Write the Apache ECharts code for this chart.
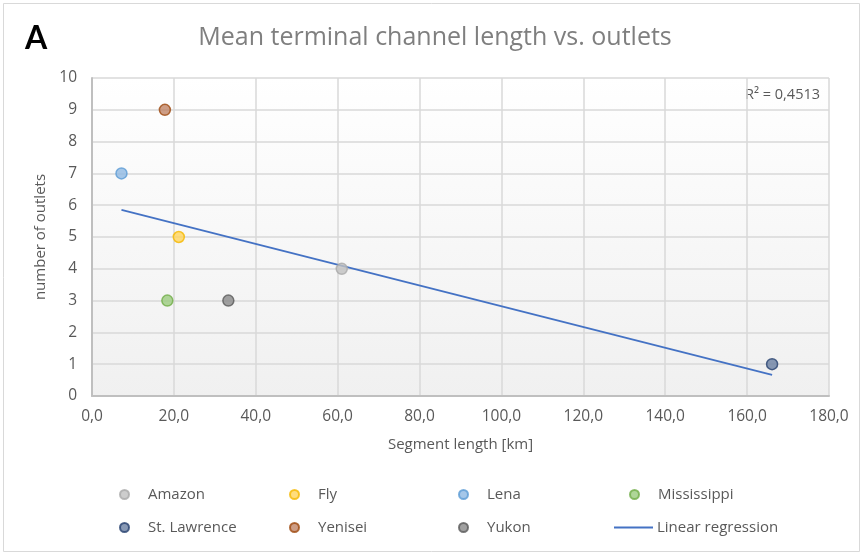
<!DOCTYPE html>
<html>
<head>
<meta charset="utf-8">
<script src="https://cdn.jsdelivr.net/npm/echarts@6/dist/echarts.min.js"></script>
<style>
  html, body { margin: 0; padding: 0; background: #ffffff; }
  #chart { width: 863px; height: 555px; }
</style>
</head>
<body>
<div id="chart"></div>
<script>
// River deltas: mean terminal channel (segment) length and number of outlets
const rivers = ['Amazon', 'Fly', 'Lena', 'Mississippi', 'St. Lawrence', 'Yenisei', 'Yukon'];
const segmentLength = [61.0, 21.2, 7.2, 18.4, 166.1, 17.8, 33.3];
const outlets = [4, 5, 7, 3, 1, 9, 3];
const xTicks = [0, 20, 40, 60, 80, 100, 120, 140, 160, 180];
const yTicks = [0, 1, 2, 3, 4, 5, 6, 7, 8, 9, 10];

const fills = ['#c0c0c0', '#ffd55c', '#8fb9e3', '#9bcc7e', '#6a7fa3', '#c08466', '#8a8a8a'];
const borders = ['#a9a9a9', '#f5b800', '#5b9bd5', '#70ad47', '#26406e', '#9e480e', '#5a5a5a'];
const FONT = '"Open Sans", Lato, sans-serif';
const TEXT = '#595959';

// least-squares trend line through all points
const n = segmentLength.length;
const mx = segmentLength.reduce((a, b) => a + b, 0) / n;
const my = outlets.reduce((a, b) => a + b, 0) / n;
let sxy = 0, sxx = 0, syy = 0;
for (let i = 0; i < n; i++) {
  sxy += (segmentLength[i] - mx) * (outlets[i] - my);
  sxx += (segmentLength[i] - mx) ** 2;
  syy += (outlets[i] - my) ** 2;
}
const slope = sxy / sxx;
const intercept = my - slope * mx;
const r2 = (sxy * sxy) / (sxx * syy);
const xMin = Math.min(...segmentLength), xMax = Math.max(...segmentLength);
const trend = [[xMin, intercept + slope * xMin], [xMax, intercept + slope * xMax]];

const series = rivers.map((name, i) => ({
  name,
  type: 'scatter',
  symbol: 'circle',
  symbolSize: 11,
  data: [[segmentLength[i], outlets[i]]],
  itemStyle: { color: fills[i], borderColor: borders[i], borderWidth: 1.5 },
  z: 3
}));
series.push({
  name: 'Linear regression',
  type: 'line',
  data: trend,
  showSymbol: false,
  symbol: 'none',
  lineStyle: { color: '#4472c4', width: 1.8 },
  itemStyle: { color: '#4472c4' },
  z: 2
});

// one legend block per entry so the entries sit in fixed columns
const legendCols = [114, 284, 453, 624];
const legendRows = [482, 515];
const legendOrder = ['Amazon', 'Fly', 'Lena', 'Mississippi', 'St. Lawrence', 'Yenisei', 'Yukon', 'Linear regression'];
const legends = legendOrder.map((name, k) => {
  const isLine = name === 'Linear regression';
  return {
    data: [isLine ? { name, icon: 'rect' } : { name, icon: 'circle' }],
    left: isLine ? 609 : legendCols[k % 4],
    top: legendRows[Math.floor(k / 4)],
    itemWidth: isLine ? 39 : 9,
    itemHeight: isLine ? 2 : 9,
    itemGap: 0,
    textStyle: { color: TEXT, fontSize: 15, fontFamily: FONT, padding: isLine ? [0, 0, 0, -1] : [0, 0, 0, 14] },
    selectedMode: false
  };
});

const chart = echarts.init(document.getElementById('chart'));
chart.setOption({
  backgroundColor: '#ffffff',
  animation: false,
  legend: legends,
  grid: {
    left: 92, right: 34, top: 78, bottom: 159,
    show: true,
    borderWidth: 0,
    backgroundColor: new echarts.graphic.LinearGradient(0, 0, 0, 1, [
      { offset: 0, color: '#ffffff' },
      { offset: 1, color: '#f0f0f0' }
    ])
  },
  xAxis: {
    type: 'value',
    min: xTicks[0], max: xTicks[xTicks.length - 1], interval: xTicks[1] - xTicks[0],
    name: 'Segment length [km]',
    nameLocation: 'middle',
    nameGap: 41,
    nameTextStyle: { color: TEXT, fontSize: 15, fontFamily: FONT },
    axisLine: { show: true, lineStyle: { color: '#bfbfbf', width: 2 } },
    axisTick: { show: false },
    axisLabel: {
      color: TEXT, fontSize: 15.5, fontFamily: FONT, margin: 13,
      formatter: v => v.toFixed(1).replace('.', ',')
    },
    splitLine: { show: true, lineStyle: { color: '#d9d9d9', width: 1.5 } }
  },
  yAxis: {
    type: 'value',
    min: yTicks[0], max: yTicks[yTicks.length - 1], interval: yTicks[1] - yTicks[0],
    name: 'number of outlets',
    nameLocation: 'middle',
    nameGap: 38,
    nameRotate: 90,
    nameTextStyle: { color: TEXT, fontSize: 15, fontFamily: FONT },
    axisLine: { show: true, lineStyle: { color: '#bfbfbf', width: 2 } },
    axisTick: { show: false },
    axisLabel: { color: TEXT, fontSize: 15.5, fontFamily: FONT, margin: 15 },
    splitLine: { show: true, lineStyle: { color: '#d9d9d9', width: 1.5 } }
  },
  graphic: [
    {
      type: 'rect',
      shape: { x: 3.5, y: 3.5, width: 856, height: 548 },
      style: { fill: 'none', stroke: '#d9d9d9', lineWidth: 1 },
      silent: true
    },
    {
      type: 'text',
      x: 435, y: 38,
      style: {
        text: 'Mean terminal channel length vs. outlets',
        fill: '#7f7f7f', fontSize: 25, fontFamily: FONT,
        align: 'center', verticalAlign: 'middle'
      }
    },
    {
      type: 'text',
      left: 25, top: 23,
      style: { text: 'A', fill: '#000000', fontSize: 32, fontWeight: 'bold', fontFamily: 'Lato, sans-serif' }
    },
    {
      type: 'text',
      right: 43, top: 87,
      style: {
        text: 'R² = ' + r2.toFixed(4).replace('.', ','),
        fill: TEXT, fontSize: 14.5, fontFamily: FONT
      }
    }
  ],
  series
});
</script>
</body>
</html>
